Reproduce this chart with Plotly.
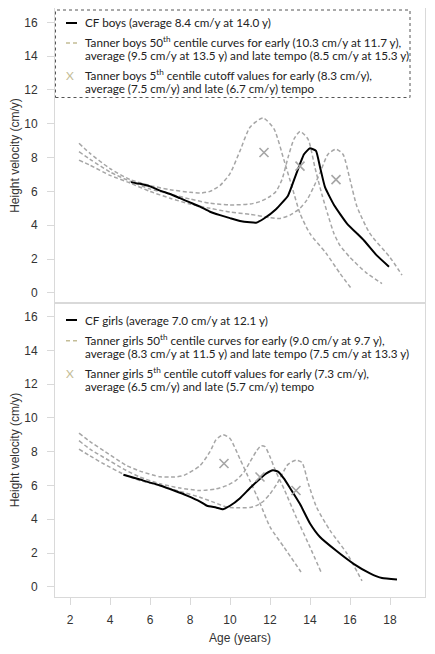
import plotly.graph_objects as go

# ---------------- DATA ----------------
# Boys (top panel)
boys_early_age = [2.45, 3.0, 4.0, 5.0, 6.0, 7.0, 8.0, 8.5, 9.0, 9.5, 10.0, 10.5, 11.0, 11.65, 12.2, 12.7, 13.1, 13.5, 14.0, 14.8, 15.5, 16.1]
boys_early_v = [8.85, 8.25, 7.35, 6.7, 6.35, 6.1, 5.95, 5.9, 6.0, 6.35, 7.05, 8.4, 9.8, 10.35, 9.7, 7.85, 6.27, 4.7, 3.5, 2.35, 1.15, 0.2]

boys_avg_age = [2.45, 3.0, 4.0, 5.0, 6.0, 7.0, 8.0, 9.0, 10.0, 11.0, 11.5, 12.0, 12.3, 12.6, 12.9, 13.2, 13.5, 13.9, 14.25, 14.6, 14.9, 15.2, 15.5, 16.0, 16.8, 17.6]
boys_avg_v = [8.35, 7.9, 7.15, 6.6, 6.15, 5.85, 5.55, 5.3, 5.2, 5.25, 5.4, 5.7, 6.0, 6.7, 8.0, 9.1, 9.55, 9.1, 7.4, 5.8, 4.6, 3.5, 2.8, 2.1, 1.2, 0.55]

boys_late_age = [2.45, 3.0, 4.0, 5.0, 6.0, 7.0, 8.0, 9.0, 10.0, 11.0, 12.0, 12.5, 13.0, 13.5, 13.85, 14.2, 14.5, 14.9, 15.3, 15.65, 16.0, 16.35, 17.0, 18.0, 18.6]
boys_late_v = [7.85, 7.55, 6.95, 6.5, 6.0, 5.6, 5.25, 5.0, 4.78, 4.65, 4.45, 4.4, 4.6, 5.0, 5.5, 6.3, 7.1, 8.2, 8.5, 8.2, 6.7, 5.1, 3.5, 2.1, 1.05]

boys_cf_age = [5.05, 5.5, 6.0, 6.5, 7.0, 7.5, 8.0, 8.5, 9.0, 9.5, 10.0, 10.5, 11.0, 11.3, 11.7, 12.3, 12.9, 13.3, 13.7, 14.0, 14.3, 14.5, 14.75, 15.2, 15.85, 16.7, 17.35, 17.95]
boys_cf_v = [6.55, 6.45, 6.3, 6.05, 5.85, 5.6, 5.35, 5.1, 4.8, 4.6, 4.42, 4.25, 4.17, 4.15, 4.4, 4.95, 5.75, 7.0, 8.2, 8.55, 8.4, 7.45, 6.25, 5.2, 4.1, 3.1, 2.2, 1.55]

boys_cut_age = [11.7, 13.5, 15.3]
boys_cut_v = [8.3, 7.5, 6.7]

# Girls (bottom panel)
girls_early_age = [2.45, 3.0, 3.7, 4.8, 5.5, 6.5, 7.2, 7.7, 8.5, 9.0, 9.3, 9.65, 10.0, 10.5, 11.0, 11.5, 12.0, 12.7, 13.55]
girls_early_v = [9.1, 8.6, 8.05, 7.2, 6.85, 6.52, 6.5, 6.6, 7.17, 8.0, 8.7, 9.0, 8.78, 7.56, 6.28, 4.95, 3.55, 2.35, 0.88]

girls_avg_age = [2.45, 3.0, 3.7, 4.8, 5.5, 6.5, 7.5, 8.5, 9.3, 9.85, 10.3, 10.7, 11.0, 11.33, 11.55, 11.75, 12.0, 12.3, 12.7, 13.3, 14.0, 14.55]
girls_avg_v = [8.65, 8.15, 7.65, 6.9, 6.5, 6.1, 5.85, 5.7, 5.8, 6.0, 6.3, 6.8, 7.4, 8.05, 8.35, 8.3, 7.7, 6.8, 5.8, 4.15, 2.35, 0.88]

girls_late_age = [2.45, 3.0, 3.7, 4.8, 5.5, 6.5, 7.5, 8.5, 9.2, 9.85, 10.5, 11.0, 11.4, 11.7, 12.0, 12.35, 12.9, 13.3, 13.6, 13.92, 14.33, 15.0, 15.85, 16.6]
girls_late_v = [8.15, 7.75, 7.27, 6.6, 6.3, 5.99, 5.65, 5.3, 5.0, 4.72, 4.68, 4.7, 4.85, 5.1, 5.5, 6.1, 7.25, 7.5, 7.36, 6.1, 4.71, 3.34, 1.97, 0.35]

girls_cf_age = [4.67, 5.5, 6.5, 7.2, 7.85, 8.5, 8.85, 9.3, 9.65, 10.0, 10.5, 11.0, 11.5, 11.8, 12.15, 12.4, 12.7, 13.0, 13.5, 14.0, 14.5, 15.3, 16.2, 17.0, 17.6, 18.35]
girls_cf_v = [6.64, 6.35, 6.0, 5.7, 5.4, 5.05, 4.8, 4.7, 4.6, 4.8, 5.25, 5.85, 6.4, 6.7, 6.9, 6.82, 6.4, 5.85, 4.9, 3.75, 2.95, 2.15, 1.35, 0.8, 0.52, 0.43]

girls_cut_age = [9.7, 11.5, 13.3]
girls_cut_v = [7.3, 6.5, 5.7]

x_ticks = [2, 4, 6, 8, 10, 12, 14, 16, 18]
y_ticks = [0, 2, 4, 6, 8, 10, 12, 14, 16]

legend_boys = [
    "CF boys (average 8.4 cm/y at 14.0 y)",
    "Tanner boys 50<sup>th</sup> centile curves for early (10.3 cm/y at 11.7 y),",
    "average (9.5 cm/y at 13.5 y) and late tempo (8.5 cm/y at 15.3 y)",
    "Tanner boys 5<sup>th</sup> centile cutoff values for early (8.3 cm/y),",
    "average (7.5 cm/y) and late (6.7 cm/y) tempo",
]
legend_girls = [
    "CF girls (average 7.0 cm/y at 12.1 y)",
    "Tanner girls 50<sup>th</sup> centile curves for early (9.0 cm/y at 9.7 y),",
    "average (8.3 cm/y at 11.5 y) and late tempo (7.5 cm/y at 13.3 y)",
    "Tanner girls 5<sup>th</sup> centile cutoff values for early (7.3 cm/y),",
    "average (6.5 cm/y) and late (5.7 cm/y) tempo",
]

# ---------------- STYLE ----------------
OFF = 8  # page body margin
W, H = 435 - 2 * OFF, 654 - 2 * OFF
# plot box in page pixels: left 55, right 425, top 8, bottom 597
ML, MT = 55 - OFF, 8 - OFF
MR = W - (425 - OFF)
MB = H - (597 - OFF)
PW, PH = W - ML - MR, H - MT - MB
DASH = "#a6a6a6"
TAN = "#c4bd97"
BOX = "#d9d9d9"
AXFONT = dict(family="Liberation Sans, Arial, sans-serif", size=12, color="#333333")
LEGFONT = dict(family="Lato, Open Sans, sans-serif", size=11.7, color="#222222")


def px_x(p):  # page pixel -> paper
    return (p - OFF - ML) / PW


def px_y(p):
    return (H - MB - (p - OFF)) / PH


fig = go.Figure()


def add_panel(early, avg, late, cf, cut, xa, ya):
    for ax_, v_ in (early, avg, late):
        fig.add_trace(go.Scatter(x=ax_, y=v_, mode="lines", xaxis=xa, yaxis=ya,
                                 line=dict(color=DASH, width=1.5, dash="4px,2.5px", shape="spline", smoothing=0.6),
                                 hoverinfo="skip"))
    fig.add_trace(go.Scatter(x=cf[0], y=cf[1], mode="lines", xaxis=xa, yaxis=ya,
                             line=dict(color="#000000", width=2, shape="spline", smoothing=0.4)))
    fig.add_trace(go.Scatter(x=cut[0], y=cut[1], mode="markers", xaxis=xa, yaxis=ya,
                             marker=dict(symbol="x-thin", size=9, line=dict(color=DASH, width=1.6))))


add_panel((boys_early_age, boys_early_v), (boys_avg_age, boys_avg_v), (boys_late_age, boys_late_v),
          (boys_cf_age, boys_cf_v), (boys_cut_age, boys_cut_v), "x2", "y2")
add_panel((girls_early_age, girls_early_v), (girls_avg_age, girls_avg_v), (girls_late_age, girls_late_v),
          (girls_cf_age, girls_cf_v), (girls_cut_age, girls_cut_v), "x", "y")

split = px_y(303)

common_x = dict(range=[1.25, 19.75], showgrid=False, zeroline=False, showline=True, linecolor=BOX,
                linewidth=1, mirror=True, tickfont=AXFONT, automargin=False)
common_y = dict(showgrid=False, zeroline=False, showline=True, linecolor=BOX, linewidth=1, mirror=True,
                tickvals=y_ticks, ticks="outside", ticklen=7, tickcolor=BOX, tickfont=AXFONT,
                ticklabelstandoff=7, automargin=False,
                title=dict(text="Height velocity (cm/y)", font=AXFONT, standoff=3))

fig.update_layout(
    width=W, height=H, margin=dict(l=ML, r=MR, t=MT, b=MB, pad=0),
    paper_bgcolor="white", plot_bgcolor="white", showlegend=False,
    xaxis=dict(common_x, domain=[0, 1], anchor="y", tickvals=x_ticks, ticks="outside", ticklen=7,
               tickcolor=BOX, ticklabelstandoff=5,
               title=dict(text="Age (years)", font=AXFONT, standoff=7)),
    yaxis=dict(common_y, domain=[0, split], anchor="x", range=[-0.6, 16.8]),
    xaxis2=dict(common_x, domain=[0, 1], anchor="y2", matches="x", showticklabels=False, ticks=""),
    yaxis2=dict(common_y, domain=[split, 1], anchor="x2", range=[-0.6, 16.85]),
)

# ---------------- custom legends ----------------
annotations = []
shapes = []
DESC = 7.5  # pixels from text middle to bottom of annotation box


def legend_block(texts, rows, box):
    # rows: page-pixel y of the centres of the five text lines
    for t, r in zip(texts, rows):
        annotations.append(dict(text=t, x=px_x(84), y=px_y(r + DESC), xref="paper", yref="paper",
                                xanchor="left", yanchor="bottom", showarrow=False, font=LEGFONT,
                                borderpad=0))
    shapes.append(dict(type="line", xref="paper", yref="paper", x0=px_x(66), x1=px_x(77),
                       y0=px_y(rows[0]), y1=px_y(rows[0]), line=dict(color="#000000", width=2)))
    shapes.append(dict(type="line", xref="paper", yref="paper", x0=px_x(66), x1=px_x(77),
                       y0=px_y(rows[1]), y1=px_y(rows[1]), line=dict(color=TAN, width=1.5, dash="4px,3px")))
    annotations.append(dict(text="X", x=px_x(70), y=px_y(rows[3]), xref="paper", yref="paper",
                            xanchor="center", yanchor="middle", showarrow=False,
                            font=dict(family="Lato, sans-serif", size=12, color=TAN)))
    if box:
        shapes.append(dict(type="rect", xref="paper", yref="paper", x0=px_x(box[0]), x1=px_x(box[1]),
                           y0=px_y(box[3]), y1=px_y(box[2]), line=dict(color="#555555", width=1, dash="dot")))


legend_block(legend_boys, [23, 43, 55.5, 75.8, 88.3], (55.5, 410, 10, 97.5))
legend_block(legend_girls, [320, 340.7, 353.3, 373.5, 386.3], None)

fig.update_layout(annotations=annotations, shapes=shapes)

fig.write_html("out.html")
